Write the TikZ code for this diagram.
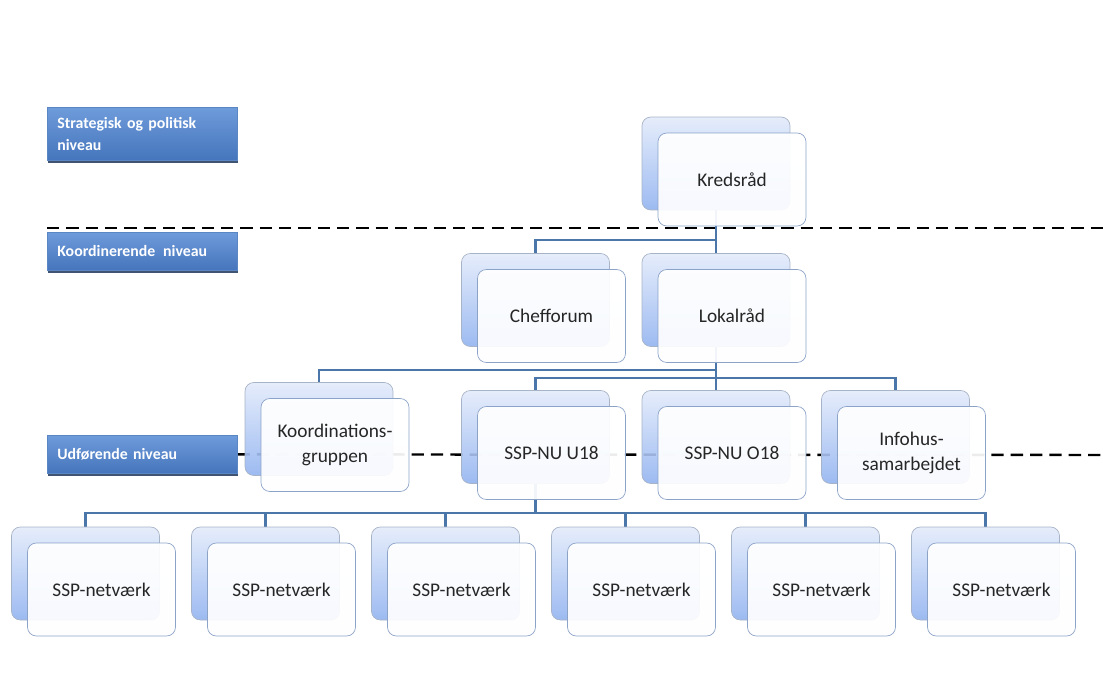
\documentclass[tikz,border=0pt]{standalone}
\usepackage{fontspec}
\setmainfont{Carlito}
\usetikzlibrary{positioning}
\usetikzlibrary{shadows}
\definecolor{backtop}{HTML}{E3EBFA}
\definecolor{backbottom}{HTML}{92B3F0}
\definecolor{backedge}{HTML}{A7B3C6}
\definecolor{frontedge}{HTML}{8CA3C8}
\definecolor{linkblue}{HTML}{4A76AA}
\definecolor{leveltop}{HTML}{6E9BDA}
\definecolor{levelbottom}{HTML}{4575BC}
\definecolor{leveledge}{HTML}{5A86C4}
\definecolor{levelshadow}{HTML}{1F3558}
\pgfdeclarelayer{behind}
\pgfsetlayers{behind,main}
\tikzset{
    org back/.style={
        draw=backedge,
        rounded corners=5pt,
        top color=backtop,
        bottom color=backbottom,
        fill opacity=0.9,
        minimum width=2.96cm,
        minimum height=1.86cm,
        inner sep=0,
    },
    org front/.style={
        draw=frontedge,
        rounded corners=5pt,
        top color=white,
        bottom color=white!95!backtop,
        fill opacity=0.93,
        text opacity=1,
        text=black!85,
        minimum width=2.96cm,
        minimum height=1.86cm,
        inner sep=0,
        align=center,
        font=\fontsize{11}{14}\selectfont,
    },
    level box/.style={
        draw=leveledge,
        top color=leveltop,
        bottom color=levelbottom,
        drop shadow={shadow xshift=0.5pt, shadow yshift=-1.6pt, opacity=0.85, fill=levelshadow},
        anchor=north west,
        text=white,
        font=\fontsize{9}{12.5}\selectfont\bfseries,
        align=left,
        inner xsep=0.2cm,
        text width=3.4cm,
    },
    org link/.style={
        draw=linkblue,
        line width=1.2pt,
    },
    level line/.style={
        dash pattern=on 7pt off 4pt,
        line width=1.4pt,
    },
}

\begin{document}
\begin{tikzpicture}[x=0.02cm, y=-0.02cm]
    \useasboundingbox (0,0) rectangle (1103,684);

    \newcommand\orgunit[4]{
        \node[org back] (#1) at (#2,#3) {};
        \node[org front] (#1F) at ([shift={(16,16)}]#1.center) {#4};
    }

    % niveauer
    \node[level box, minimum height=1.06cm] (strat) at (47,107) {Strategisk og politisk\\niveau};
    \node[level box, minimum height=0.76cm] (koordniv) at (47,232) {Koordinerende\ \,niveau};
    \node[level box, minimum height=0.76cm] (udf) at (47,435) {Udførende niveau};

    \orgunit{kreds}{716}{163.5}{Kredsråd}
    \orgunit{chef}{535.5}{300}{Chefforum}
    \orgunit{lokal}{716}{300}{Lokalråd}
    \orgunit{koord}{319}{429}{Koordinations-\\gruppen}
    \orgunit{u18}{535.5}{437}{SSP-NU U18}
    \orgunit{o18}{716}{437}{SSP-NU O18}
    \orgunit{info}{895.5}{437}{Infohus-\\samarbejdet}
    \foreach \i [evaluate=\i as \netx using 85.5+180*(\i-1)] in {1,...,6}
    {
        \orgunit{net\i}{\netx}{573.5}{SSP-netværk}
    }

    \coordinate (lineAw) at (47,228);
    \coordinate (lineAe) at (1103,228);
    \coordinate (lineBe) at (1103,455);
    \coordinate (busC) at (716,378);
    \coordinate (busD) at (535.5,513);

    \begin{pgfonlayer}{behind}
        \draw[level line] (lineAw) -- (lineAe);
        \draw[level line] (udf.east) -- (lineBe);

        \draw[org link] (kreds.south) -- (lokal.north);
        \draw[org link] (kreds.south) -- ++(0,30) -| (chef.north);
        \draw[org link] (lokal.south) -- (o18.north);
        \draw[org link] (lokal.south) -- ++(0,23.5) -| (koord.north);
        \draw[org link] (busC) -| (u18.north);
        \draw[org link] (busC) -| (info.north);
        \draw[org link] (u18.south) -- (busD);
        \foreach \i in {1,...,6}
        {
            \draw[org link] (busD) -| (net\i.north);
        }
    \end{pgfonlayer}

\end{tikzpicture}
\end{document}
